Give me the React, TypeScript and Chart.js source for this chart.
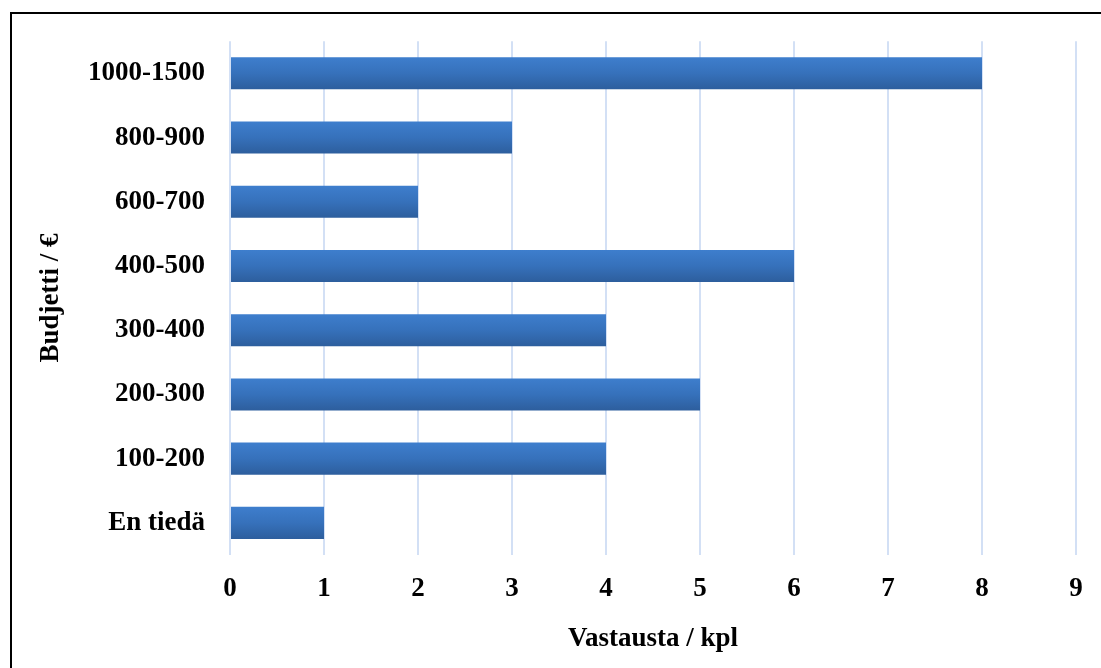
import React, { useEffect, useRef } from "react";
import { Chart, registerables } from "chart.js";

Chart.register(...registerables);

const categories = ["1000-1500", "800-900", "600-700", "400-500", "300-400", "200-300", "100-200", "En tiedä"];
const responses = [8, 3, 2, 6, 4, 5, 4, 1];
const xTicks = [0, 1, 2, 3, 4, 5, 6, 7, 8, 9];
const xTitle = "Vastausta / kpl";
const yTitle = "Budjetti / €";

const FONT = "'Liberation Serif', 'Times New Roman', serif";
const FONT_SIZE = 27;

export default function App() {
  const ref = useRef<HTMLCanvasElement | null>(null);

  useEffect(() => {
    if (!ref.current) return;
    const chart = new Chart(ref.current, {
      type: "bar",
      data: {
        labels: categories,
        datasets: [
          {
            data: responses,
            barPercentage: 0.5,
            categoryPercentage: 1,
            backgroundColor: (ctx: any) => {
              const c = ctx.chart;
              const y = c.scales?.y;
              if (!y || ctx.dataIndex === undefined) return "#3671bb";
              const center = y.getPixelForValue(ctx.dataIndex);
              const half = ((y.bottom - y.top) / categories.length) * 0.25;
              if (!Number.isFinite(center) || !Number.isFinite(half) || half <= 0) return "#3671bb";
              const g = c.ctx.createLinearGradient(0, center - half, 0, center + half);
              g.addColorStop(0, "#3e7ecd");
              g.addColorStop(0.5, "#3671bb");
              g.addColorStop(1, "#2d5e9d");
              return g;
            },
            borderWidth: 0,
          },
        ],
      },
      options: {
        indexAxis: "y",
        responsive: false,
        animation: false,
        layout: { padding: { top: 41, right: 25, left: 0, bottom: 0 } },
        plugins: { legend: { display: false }, tooltip: { enabled: false } },
        scales: {
          x: {
            min: 0,
            max: 9,
            afterBuildTicks: (s: any) => {
              s.ticks = xTicks.map((v) => ({ value: v }));
            },
            afterFit: (s: any) => {
              s.height = 113;
            },
            grid: { color: "#d3e0f5", lineWidth: 2, drawTicks: false },
            border: { display: false },
            ticks: {
              color: "#000",
              padding: 18,
              font: { family: FONT, size: FONT_SIZE, weight: "bold" },
            },
            title: {
              display: true,
              text: xTitle,
              color: "#000",
              font: { family: FONT, size: FONT_SIZE, weight: "bold" },
              padding: { top: 0, bottom: 13 },
            },
          },
          y: {
            afterFit: (s: any) => {
              s.width = 230;
            },
            grid: { display: false, drawTicks: false },
            border: { display: false },
            ticks: {
              color: "#000",
              padding: 25,
              font: { family: FONT, size: FONT_SIZE, weight: "bold" },
            },
            title: {
              display: true,
              text: yTitle,
              color: "#000",
              font: { family: FONT, size: FONT_SIZE, weight: "bold" },
              padding: { top: 35, bottom: 0 },
            },
          },
        },
      },
    } as any);
    return () => chart.destroy();
  }, []);

  return (
    <div style={{ position: "fixed", left: 0, top: 0, width: 1101, height: 668, background: "#fff", overflow: "hidden" }}>
      <div
        style={{
          position: "absolute",
          left: 10,
          top: 12,
          width: 2000,
          height: 2000,
          borderLeft: "2px solid #000",
          borderTop: "2px solid #000",
        }}
      />
      <canvas ref={ref} width={1101} height={668} style={{ position: "absolute", left: 0, top: 0, display: "block" }} />
    </div>
  );
}
